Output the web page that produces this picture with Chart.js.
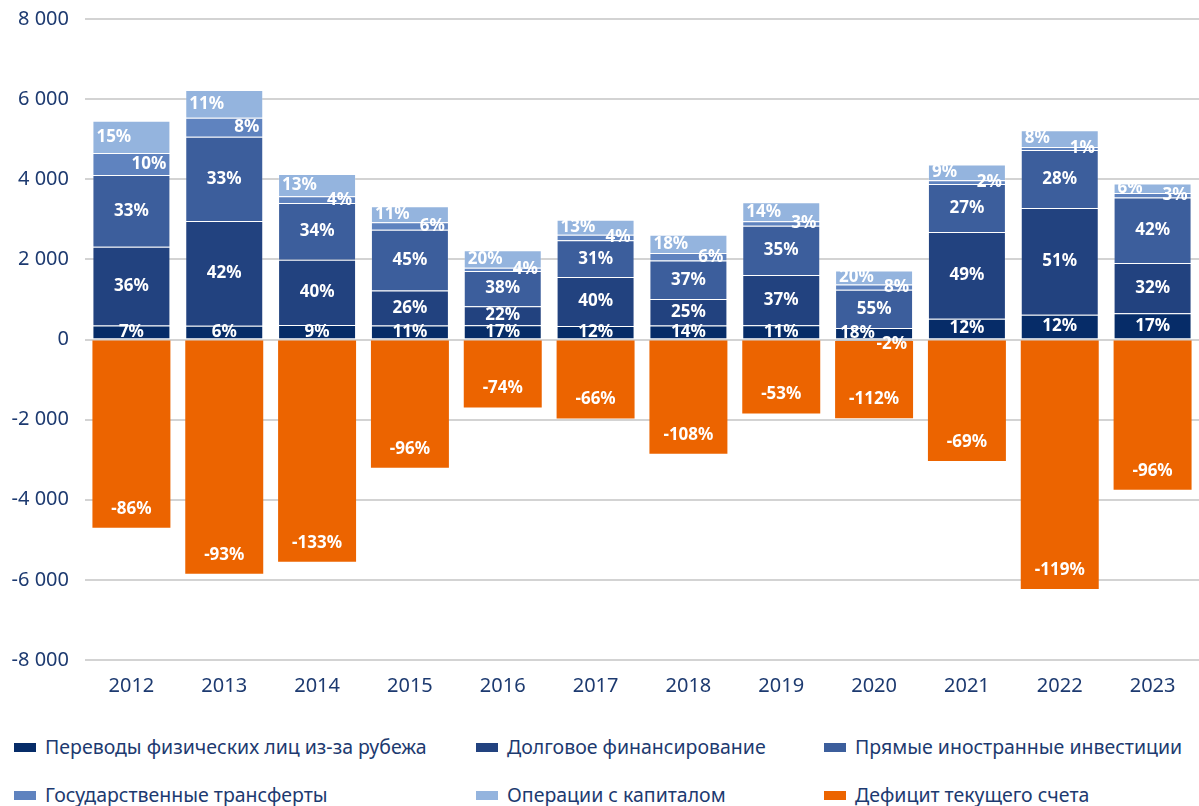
<!DOCTYPE html>
<html lang="ru">
<head>
<meta charset="UTF-8">
<title>Финансирование дефицита текущего счета</title>
<script src="https://cdn.jsdelivr.net/npm/chart.js@4"></script>
<style>
    body { margin: 0; background: #fff; font-family: "Noto Sans", sans-serif; }
    #wrap { position: relative; width: 1199px; height: 806px; }
    #chartBox { position: absolute; left: 0; top: 0; width: 1199px; height: 712px; }
    .item { position: absolute; height: 24px; line-height: 24px; font-size: 19.5px; color: #1d3a70; white-space: nowrap; }
    .item .box { display: inline-block; width: 22px; height: 9px; margin-right: 9px; vertical-align: middle; position: relative; top: -1px; }
</style>
</head>
<body>
<div id="wrap">
    <div id="chartBox"><canvas id="myChart"></canvas></div>
    <div id="legend"></div>
</div>

<script>
// data
var years = ['2012', '2013', '2014', '2015', '2016', '2017', '2018', '2019', '2020', '2021', '2022', '2023'];

var remittances   = [350, 342, 360, 350, 358, 340, 350, 358, 290, 517, 617, 658];
var debtFinancing = [1967, 2616, 1630, 875, 475, 1220, 658, 1250, -35, 2166, 2666, 1250];
var fdi           = [1791, 2100, 1416, 1517, 875, 915, 967, 1234, 952, 1200, 1450, 1634];
var govTransfers  = [550, 475, 167, 183, 84, 142, 183, 108, 133, 92, 75, 116];
var capitalOps    = [800, 692, 558, 400, 433, 375, 459, 475, 350, 392, 417, 234];
var deficit       = [-4700, -5850, -5550, -3200, -1700, -1975, -2850, -1850, -1930, -3030, -6225, -3750];

// percent labels as printed on the chart
var remittancesPct = [7, 6, 9, 11, 17, 12, 14, 11, 18, 12, 12, 17];
var debtPct        = [36, 42, 40, 26, 22, 40, 25, 37, -2, 49, 51, 32];
var fdiPct         = [33, 33, 34, 45, 38, 31, 37, 35, 55, 27, 28, 42];
var govPct         = [10, 8, 4, 6, 4, 4, 6, 3, 8, 2, 1, 3];
var capitalPct     = [15, 11, 13, 11, 20, 13, 18, 14, 20, 9, 8, 6];
var deficitPct     = [-86, -93, -133, -96, -74, -66, -108, -53, -112, -69, -119, -96];

var yTicks = [-8000, -6000, -4000, -2000, 0, 2000, 4000, 6000, 8000];

var navy = '#1d3a70';
var segBorder = 'rgba(255,255,255,0.18)';

var series = [
    { label: 'Переводы физических лиц из-за рубежа', data: remittances, pct: remittancesPct, color: '#062c68', place: 'center' },
    { label: 'Долговое финансирование', data: debtFinancing, pct: debtPct, color: '#22427f', place: 'center' },
    { label: 'Прямые иностранные инвестиции', data: fdi, pct: fdiPct, color: '#3c5e9c', place: 'center' },
    { label: 'Государственные трансферты', data: govTransfers, pct: govPct, color: '#5f83bf', place: 'right' },
    { label: 'Операции с капиталом', data: capitalOps, pct: capitalPct, color: '#94b4de', place: 'left' },
    { label: 'Дефицит текущего счета', data: deficit, pct: deficitPct, color: '#ec6400', place: 'end' }
];

function fmt(v) {
    var s = String(Math.abs(v)).replace(/\B(?=(\d{3})+(?!\d))/g, ' ');
    return (v < 0 ? '-' : '') + s;
}

// draws the percent labels inside the bars
var segLabels = {
    id: 'segLabels',
    afterDatasetsDraw: function (chart) {
        var ctx = chart.ctx;
        ctx.save();
        ctx.font = 'bold 17px "Noto Sans"';
        ctx.fillStyle = '#ffffff';
        ctx.textBaseline = 'middle';
        chart.data.datasets.forEach(function (ds, di) {
            var meta = chart.getDatasetMeta(di);
            meta.data.forEach(function (bar, i) {
                var txt = ds.pct[i] + '%';
                var left = bar.x - bar.width / 2;
                var right = bar.x + bar.width / 2;
                var x = bar.x, y = (bar.y + bar.base) / 2, align = 'center';
                if (ds.place === 'left') { x = left + 4; align = 'left'; }
                else if (ds.place === 'right') { x = right - 4; align = 'right'; }
                else if (ds.place === 'end') { y = bar.y - 19; }
                if (ds.data[i] < 0 && ds.place === 'center') { x = right - 6; align = 'right'; y += 3; }
                if (di === 0 && debtFinancing[i] < 0) { x = left + 5; align = 'left'; }
                ctx.textAlign = align;
                ctx.fillText(txt, x, y);
            });
        });
        ctx.restore();
    }
};

var ctx = document.getElementById('myChart').getContext('2d');
var myChart = new Chart(ctx, {
    type: 'bar',
    data: {
        labels: years,
        datasets: series.map(function (s) {
            return {
                label: s.label,
                data: s.data,
                pct: s.pct,
                place: s.place,
                backgroundColor: s.color,
                borderColor: s.place === 'end' ? s.color : segBorder,
                borderWidth: s.place === 'end' ? 0 : 1,
                barPercentage: 0.84,
                categoryPercentage: 1
            };
        })
    },
    options: {
        responsive: true,
        maintainAspectRatio: false,
        animation: false,
        layout: { padding: { left: 10, top: 19, right: 0, bottom: 2 } },
        plugins: {
            legend: { display: false },
            tooltip: { enabled: false }
        },
        scales: {
            x: {
                stacked: true,
                grid: { display: false, drawTicks: false },
                border: { display: false },
                ticks: { color: navy, font: { family: 'Noto Sans', size: 20 }, padding: 14 },
                afterFit: function (axis) {
                    axis.height = 50;
                    axis.paddingLeft = 0;
                    axis.paddingRight = 0;
                }
            },
            y: {
                stacked: true,
                min: -8000,
                max: 8000,
                afterBuildTicks: function (axis) {
                    axis.ticks = yTicks.map(function (v) { return { value: v }; });
                },
                grid: { color: '#d3d3d3', lineWidth: 2, drawTicks: false },
                border: { display: false },
                ticks: {
                    color: navy,
                    font: { family: 'Noto Sans', size: 20 },
                    padding: 16,
                    callback: function (v) { return fmt(v); }
                },
                afterFit: function (axis) {
                    axis.width = 75;
                    axis.paddingTop = 0;
                    axis.paddingBottom = 0;
                }
            }
        }
    },
    plugins: [segLabels]
});

// legend in three columns, two rows
var legendPos = [[14, 735], [476, 735], [824, 735], [14, 783], [476, 783], [824, 783]];
var legendBox = document.getElementById('legend');
series.forEach(function (s, i) {
    var el = document.createElement('div');
    el.className = 'item';
    el.style.left = legendPos[i][0] + 'px';
    el.style.top = legendPos[i][1] + 'px';
    el.innerHTML = '<span class="box" style="background:' + s.color + '"></span>' + s.label;
    legendBox.appendChild(el);
});
</script>
</body>
</html>
